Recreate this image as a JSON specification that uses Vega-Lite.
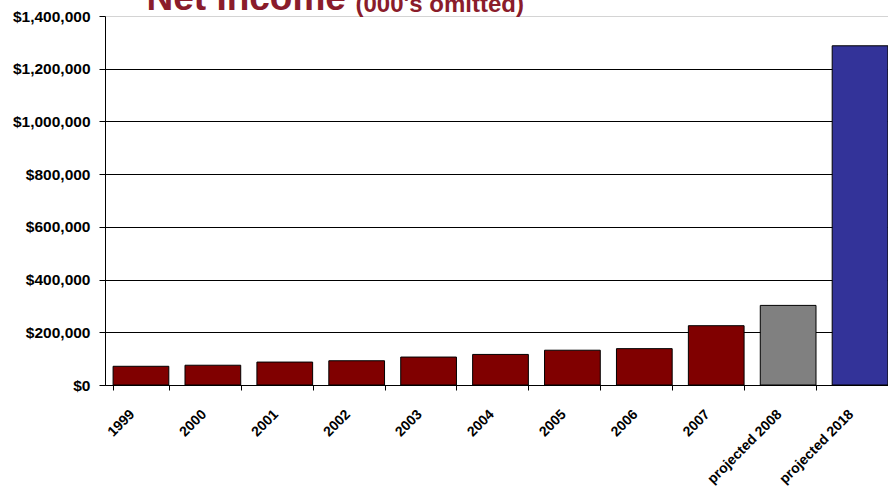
{
  "$schema": "https://vega.github.io/schema/vega-lite/v6.json",
  "autosize": {"type": "none"},
  "padding": {"left": 105, "top": 16, "right": 0, "bottom": 102},
  "width": 791,
  "height": 369,
  "background": "white",
  "data": {
    "values": [
      {"year": "1999", "income": 71000, "kind": "actual"},
      {"year": "2000", "income": 75000, "kind": "actual"},
      {"year": "2001", "income": 87000, "kind": "actual"},
      {"year": "2002", "income": 92000, "kind": "actual"},
      {"year": "2003", "income": 106000, "kind": "actual"},
      {"year": "2004", "income": 116000, "kind": "actual"},
      {"year": "2005", "income": 132000, "kind": "actual"},
      {"year": "2006", "income": 138000, "kind": "actual"},
      {"year": "2007", "income": 225000, "kind": "actual"},
      {"year": "projected 2008", "income": 302000, "kind": "projected 2008"},
      {"year": "projected 2018", "income": 1287000, "kind": "projected 2018"}
    ]
  },
  "encoding": {
    "x": {
      "field": "year",
      "type": "nominal",
      "sort": null,
      "scale": {"paddingInner": 0.225, "paddingOuter": 0.1125},
      "axis": {
        "title": null,
        "domain": true,
        "domainColor": "black",
        "ticks": true,
        "tickBand": "extent",
        "tickOffset": 8,
        "tickColor": "black",
        "tickSize": 5,
        "tickWidth": 1,
        "labelOffset": -14,
        "labelAngle": -45,
        "labelAlign": "right",
        "labelBaseline": "top",
        "labelPadding": 17,
        "labelFont": "Liberation Sans",
        "labelFontSize": 14,
        "labelFontWeight": "bold",
        "labelColor": "black",
        "grid": false
      }
    }
  },
  "layer": [
    {
      "mark": {"type": "bar", "stroke": "black", "strokeWidth": 1},
      "encoding": {
        "y": {
          "field": "income",
          "type": "quantitative",
          "scale": {"domain": [0, 1400000], "nice": false},
          "axis": {
            "title": "(000's omitted)",
            "titleAngle": 0,
            "titleX": 250,
            "titleY": -5,
            "titleAlign": "left",
            "titleBaseline": "alphabetic",
            "titleFont": "Liberation Sans",
            "titleFontSize": 24,
            "titleFontWeight": "bold",
            "titleColor": "#8a1c2b",
            "values": [0, 200000, 400000, 600000, 800000, 1000000, 1200000, 1400000],
            "format": "$,.0f",
            "domainColor": "black",
            "tickColor": "black",
            "tickSize": 6,
            "labelPadding": 9,
            "labelFont": "Liberation Sans",
            "labelFontSize": 15.5,
            "labelFontWeight": "bold",
            "labelColor": "black",
            "grid": true,
            "gridColor": {"condition": {"test": "datum.value == 1400000", "value": "#d4d4d4"}, "value": "black"},
            "gridOpacity": 1,
            "gridWidth": 1
          }
        },
        "color": {
          "field": "kind",
          "type": "nominal",
          "scale": {"domain": ["actual", "projected 2008", "projected 2018"], "range": ["#800000", "#808080", "#333399"]},
          "legend": null
        }
      }
    },
    {
      "mark": {"type": "bar", "opacity": 0},
      "encoding": {
        "y": {
          "field": "income",
          "type": "quantitative",
          "scale": {"domain": [0, 1400000], "nice": false},
          "axis": {
            "orient": "right",
            "title": "Net Income",
            "titleAngle": 0,
            "titleX": -750,
            "titleY": -7,
            "titleAlign": "left",
            "titleBaseline": "alphabetic",
            "titleFont": "Liberation Sans",
            "titleFontSize": 37,
            "titleFontWeight": "bold",
            "titleColor": "#8a1c2b",
            "labels": false,
            "ticks": false,
            "domain": false,
            "grid": false
          }
        }
      }
    }
  ],
  "resolve": {"axis": {"y": "independent"}},
  "config": {"view": {"stroke": null}}
}
